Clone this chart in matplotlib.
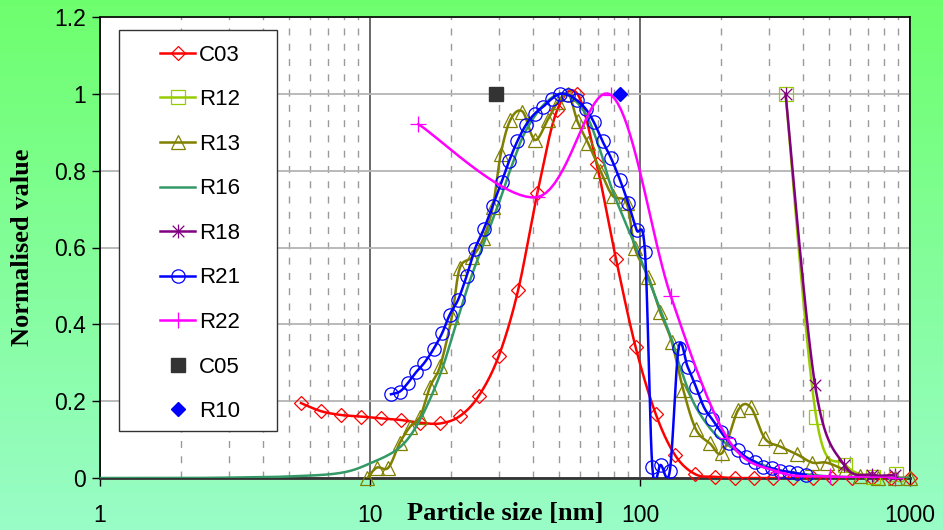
import numpy as np
import matplotlib
matplotlib.use("Agg")
import matplotlib.pyplot as plt
from matplotlib.lines import Line2D
from matplotlib.patches import Rectangle
from matplotlib.path import Path
from matplotlib.ticker import LogLocator, FixedLocator, NullFormatter

# ----------------------------------------------------------
# Data (particle size in nm)
# ----------------------------------------------------------
c03_x = [5.55, 6.58, 7.81, 9.26, 10.98, 13.0, 15.3, 18.2, 21.5, 25.3, 30.0,
         35.4, 41.7, 49.3, 58.6, 69.1, 81.5, 96.4, 114.3, 135, 160, 189.6,
         224, 265, 311, 369, 437, 516, 610, 721, 853, 1000]
c03_y = [0.195, 0.174, 0.164, 0.160, 0.155, 0.151, 0.144, 0.142, 0.161, 0.214,
         0.318, 0.49, 0.743, 0.957, 1.0, 0.818, 0.57, 0.34, 0.167, 0.059, 0.01,
         0.003, 0, 0, 0, 0, 0, 0, 0, 0, 0, 0]

r12_x = [346, 449, 574, 730, 890]
r12_y = [1.0, 0.16, 0.035, 0.003, 0.01]

r13_x = [9.78, 10.6, 11.7, 12.9, 14.1, 15.3, 16.7, 18.2, 20.1, 21.5, 23.9,
         26.3, 28.5, 30.5, 33.1, 36.7, 40.8, 45.5, 49.8, 54.3, 58.7, 64.3,
         71.3, 79.1, 89.2, 95.8, 107.4, 118.6, 131, 144.7, 161, 181.6, 202,
         231, 257, 290, 330, 380, 435, 491, 574, 653, 763, 877, 1000]
r13_y = [0.0, 0.027, 0.027, 0.092, 0.134, 0.158, 0.238, 0.292, 0.42, 0.546,
         0.575, 0.624, 0.706, 0.843, 0.932, 0.954, 0.88, 0.932, 0.98, 1.0,
         0.928, 0.871, 0.80, 0.735, 0.715, 0.598, 0.524, 0.433, 0.355, 0.229,
         0.127, 0.09, 0.066, 0.177, 0.184, 0.103, 0.082, 0.062, 0.04, 0.04,
         0.021, 0.005, 0.0, 0.0, 0.0]

r16_x = [1.0, 2.0, 3.0, 5.0, 7.74, 10, 12.9, 15.3, 18.2, 20.6, 23.5, 26.7,
         30.3, 33.0, 37.5, 44.5, 52.7, 62.6, 71.1, 77.4, 86.5, 97.5, 108.9,
         121.7, 132.5, 140.6, 157, 177, 198, 229, 262, 330, 464, 653, 1000]
r16_y = [0, 0, 0.001, 0.004, 0.013, 0.038, 0.08, 0.151, 0.27, 0.39, 0.516,
         0.62, 0.724, 0.80, 0.90, 0.975, 1.0, 0.95, 0.854, 0.767, 0.68, 0.594,
         0.507, 0.42, 0.351, 0.29, 0.2, 0.14, 0.102, 0.07, 0.045, 0.02, 0.006,
         0.002, 0.0]

r18_x = [346, 445, 570, 721, 880]
r18_y = [1.0, 0.242, 0.034, 0.008, 0.008]

r21_x = [11.96, 12.9, 13.8, 14.8, 15.9, 17.2, 18.5, 19.7, 21.2, 22.8, 24.5,
         26.4, 28.5, 30.7, 32.7, 35.1, 37.8, 40.7, 43.9, 47.1, 50.5, 54.3,
         58.2, 62.9, 67.5, 72.7, 78.1, 84.3, 90.5, 97.1, 104.4, 111.1, 119.3,
         129, 139, 150, 161, 172.6, 185, 199, 214, 230, 247, 267, 286, 309,
         331, 356, 380, 411]
r21_y = [0.218, 0.225, 0.247, 0.275, 0.30, 0.336, 0.377, 0.424, 0.464, 0.526,
         0.597, 0.648, 0.709, 0.77, 0.824, 0.876, 0.919, 0.948, 0.967, 0.987,
         1.0, 0.997, 0.984, 0.961, 0.926, 0.876, 0.833, 0.776, 0.715, 0.646,
         0.587, 0.028, 0.034, 0.019, 0.338, 0.29, 0.238, 0.184, 0.153, 0.121,
         0.092, 0.073, 0.054, 0.042, 0.029, 0.025, 0.019, 0.016, 0.012, 0.008]

r22_x = [15.1, 41.5, 78.1, 130, 210, 325, 505, 880]
r22_y = [0.921, 0.731, 0.997, 0.474, 0.105, 0.016, 0.004, 0.0]

c05_x = [29.3]
c05_y = [1.0]
r10_x = [84.3]
r10_y = [1.0]


# ----------------------------------------------------------
# Excel-style smoothed line (Catmull-Rom Bezier in log-x space)
# ----------------------------------------------------------
def smooth(x, y, n=20):
    u = np.log10(np.asarray(x, float))
    v = np.asarray(y, float)
    pu = np.concatenate([[u[0]], u, [u[-1]]])
    pv = np.concatenate([[v[0]], v, [v[-1]]])
    t = np.linspace(0, 1, n + 1)[1:]
    su, sv = [u[0]], [v[0]]
    for i in range(len(u) - 1):
        a_u, a_v = u[i], v[i]
        d_u, d_v = u[i + 1], v[i + 1]
        b_u = a_u + (d_u - pu[i]) / 6
        b_v = a_v + (d_v - pv[i]) / 6
        c_u = d_u - (pu[i + 3] - a_u) / 6
        c_v = d_v - (pv[i + 3] - a_v) / 6
        m = 1 - t
        su.extend(m**3 * a_u + 3 * m**2 * t * b_u + 3 * m * t**2 * c_u + t**3 * d_u)
        sv.extend(m**3 * a_v + 3 * m**2 * t * b_v + 3 * m * t**2 * c_v + t**3 * d_v)
    return 10 ** np.array(su), np.array(sv)


# Excel-like star marker: an X with a vertical bar
star = Path([(-1, -1), (1, 1), (-1, 1), (1, -1), (0, -1.2), (0, 1.2)],
            [Path.MOVETO, Path.LINETO] * 3)

series = [
    ("C03", c03_x, c03_y, "#ff0000", "D", 7.4),
    ("R12", r12_x, r12_y, "#99cc00", "s", 9.6),
    ("R13", r13_x, r13_y, "#808000", "^", 10),
    ("R16", r16_x, r16_y, "#339966", None, 0),
    ("R18", r18_x, r18_y, "#800080", star, 10),
    ("R21", r21_x, r21_y, "#0000ff", "o", 9.6),
    ("R22", r22_x, r22_y, "#ff00ff", "+", 11),
]

plt.rcParams["font.family"] = ["Liberation Sans", "DejaVu Sans"]

fig = plt.figure(figsize=(9.43, 5.30), dpi=100)

# green gradient background
bg = fig.add_axes([0, 0, 1, 1], zorder=-10)
grad = np.linspace(0, 1, 256)[:, None]
top = np.array([0.43, 1.0, 0.43])
bot = np.array([0.60, 0.99, 0.78])
img = top[None, None, :] * (1 - grad[:, :, None]) + bot[None, None, :] * grad[:, :, None]
bg.imshow(img, aspect="auto", extent=[0, 1, 0, 1])
bg.axis("off")

ax = fig.add_axes([100 / 943, 52 / 530, 810 / 943, 461 / 530])
ax.set_facecolor("white")

handles = []
for name, xs, ys, col, mk, ms in series:
    sx, sy = smooth(xs, ys)
    ax.plot(sx, sy, color=col, lw=1.8, zorder=3)
    if mk is not None:
        ax.plot(xs, ys, linestyle="none", marker=mk, ms=ms, mfc="none",
                mec=col, mew=0.9, zorder=3, clip_on=False)
    handles.append(Line2D([], [], color=col, lw=1.8, marker=mk, ms=ms,
                          mfc="none", mec=col, mew=0.9))

ax.plot(c05_x, c05_y, linestyle="none", marker="s", ms=9.6,
        color="#333333", zorder=3)
ax.plot(r10_x, r10_y, linestyle="none", marker="D", ms=7.2,
        color="#0000ff", zorder=3)
handles.append(Line2D([], [], linestyle="none", marker="s", ms=9.6, color="#333333"))
handles.append(Line2D([], [], linestyle="none", marker="D", ms=7.2, color="#0000ff"))
labels = ["C03", "R12", "R13", "R16", "R18", "R21", "R22", "C05", "R10"]

ax.set_xscale("log")
ax.set_xlim(1, 1000)
ax.set_ylim(0, 1.2)
ax.xaxis.set_major_locator(FixedLocator([1, 10, 100, 1000]))
ax.set_xticklabels(["1", "10", "100", "1000"])
ax.xaxis.set_minor_locator(LogLocator(base=10, subs=np.arange(2, 10)))
ax.xaxis.set_minor_formatter(NullFormatter())
ax.set_yticks(np.arange(0, 1.21, 0.2))
ax.set_yticklabels(["0", "0.2", "0.4", "0.6", "0.8", "1", "1.2"])

ax.tick_params(axis="both", which="major", direction="out", length=6,
               width=1, labelsize=16.5, color="black")
ax.tick_params(axis="x", which="major", pad=13)
ax.tick_params(axis="y", which="major", pad=4)
ax.tick_params(axis="x", which="minor", length=0)

ax.grid(axis="y", which="major", color="#b4b4b4", lw=1.3, zorder=1)
ax.grid(axis="x", which="major", color="#505050", lw=1.2, zorder=1)
ax.grid(axis="x", which="minor", color="#9a9a9a", lw=1.0,
        linestyle=(0, (5, 6)), zorder=1)
ax.set_axisbelow(True)
for sp in ax.spines.values():
    sp.set_color("black")
    sp.set_linewidth(1.2)
ax.spines["bottom"].set_color("#333333")
ax.spines["bottom"].set_linewidth(2)

serif = ["Liberation Serif", "DejaVu Serif"]
ax.set_xlabel("Particle size [nm]", family=serif, fontweight="bold", fontsize=19)
ax.xaxis.set_label_coords(0.5, -0.076)
ax.xaxis.label.set_va("center")
ax.set_ylabel("Normalised value", family=serif, fontweight="bold", fontsize=19)
ax.yaxis.set_label_coords(-0.096, 0.5)
ax.yaxis.label.set_va("center")

# legend box
ax.add_patch(Rectangle((0.024, 0.102), 0.195, 0.870, transform=ax.transAxes,
                       facecolor="white", edgecolor="#333333", lw=1.0, zorder=6))
leg = ax.legend(handles, labels, loc="upper left",
                bbox_to_anchor=(0.074, 0.94), frameon=False, fontsize=16,
                handlelength=1.6, handletextpad=0.15, labelspacing=1.06,
                borderpad=0, borderaxespad=0)
leg.set_zorder(7)

fig.savefig("out.png", dpi=100)
